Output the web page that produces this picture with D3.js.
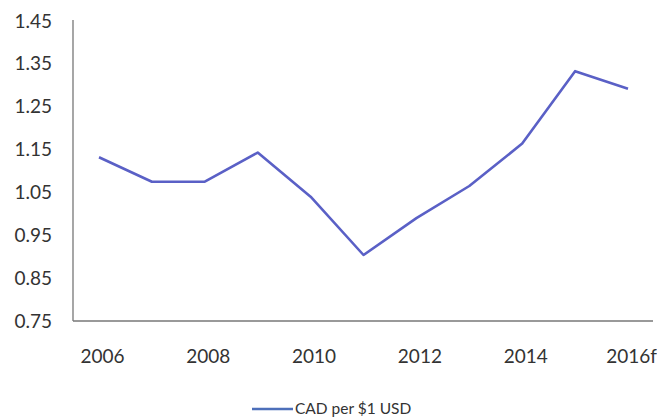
<!DOCTYPE html>
<html>
<head>
<meta charset="utf-8">
<script src="https://cdn.jsdelivr.net/npm/d3@7"></script>
<style>
  html, body { margin: 0; padding: 0; background: #fff; }
  svg { display: block; }
</style>
</head>
<body>
<svg id="chart" width="657" height="418"></svg>
<script>
const years = ["2006","2007","2008","2009","2010","2011","2012","2013","2014","2015","2016f"];
const cadPerUsd = [1.132, 1.075, 1.075, 1.143, 1.040, 0.904, 0.990, 1.065, 1.164, 1.333, 1.292];
const yTicks = [0.75, 0.85, 0.95, 1.05, 1.15, 1.25, 1.35, 1.45];
const xTickLabels = ["2006","2008","2010","2012","2014","2016f"];
const seriesName = "CAD per $1 USD";

const svg = d3.select("#chart");
const font = "Lato, 'Open Sans', sans-serif";

const x = d3.scalePoint().domain(years).range([99, 628]);
const y = d3.scaleLinear().domain([0.75, 1.45]).range([321, 21]);

// y axis labels
const yAxis = d3.axisLeft(y).tickValues(yTicks).tickFormat(d3.format(".2f")).tickSize(0).tickPadding(21);
const gy = svg.append("g").attr("transform", "translate(73,0)").call(yAxis);
gy.select(".domain").remove();
gy.selectAll("text").attr("font-family", font).attr("font-size", 19).attr("fill", "#333");

// x axis labels
const xAxis = d3.axisBottom(x).tickValues(xTickLabels).tickSize(0).tickPadding(29);
const gx = svg.append("g").attr("transform", "translate(3,321)").call(xAxis);
gx.select(".domain").remove();
gx.selectAll("text").attr("font-family", font).attr("font-size", 19).attr("fill", "#333");

// axis lines
svg.append("line").attr("x1", 73).attr("x2", 73).attr("y1", 20).attr("y2", 321)
  .attr("stroke", "#777").attr("stroke-width", 1.3);
svg.append("line").attr("x1", 73).attr("x2", 653).attr("y1", 321).attr("y2", 321)
  .attr("stroke", "#777").attr("stroke-width", 1.3);

// line
const line = d3.line().x((d, i) => x(years[i])).y(d => y(d));
svg.append("path").datum(cadPerUsd)
  .attr("d", line)
  .attr("fill", "none")
  .attr("stroke", "#5a60c6")
  .attr("stroke-width", 2.6)
  .attr("stroke-linejoin", "round");

// legend
const lg = svg.append("g").attr("transform", "translate(252,409)");
lg.append("line").attr("x1", 0).attr("x2", 41).attr("y1", 0).attr("y2", 0)
  .attr("stroke", "#4d6fba").attr("stroke-width", 2.6);
lg.append("text").attr("x", 43).attr("y", 0).attr("dy", "0.35em")
  .attr("font-family", font).attr("font-size", 15.5).attr("fill", "#333")
  .text(seriesName);
</script>
</body>
</html>
